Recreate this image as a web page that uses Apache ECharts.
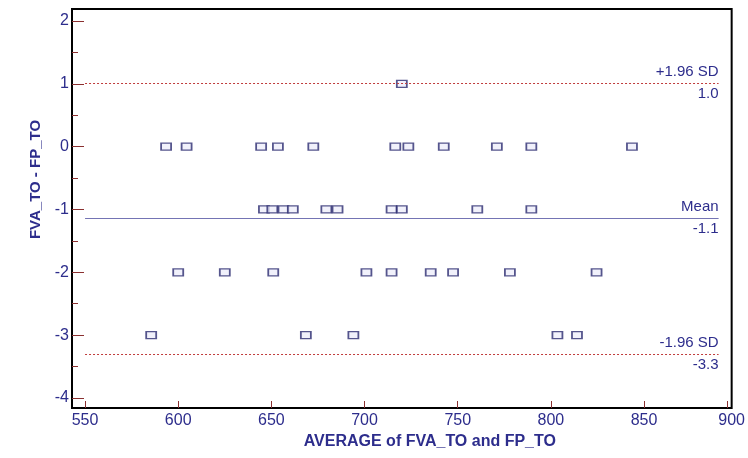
<!DOCTYPE html>
<html>
<head>
<meta charset="utf-8">
<script src="https://cdn.jsdelivr.net/npm/echarts@6/dist/echarts.min.js"></script>
<style>
  html, body { margin: 0; padding: 0; background: #fff; }
  #chart { width: 748px; height: 458px; }
</style>
</head>
<body>
<div id="chart"></div>
<script>
// Bland-Altman: average vs difference
const averages = [
  593.5, 604.5, 644.5, 653.5, 672.5, 716.5, 723.5, 742.5, 771, 789.5, 843.5,
  646, 650.5, 656.5, 661.5, 679.5, 685.5, 714.5, 720, 760.5, 789.5,
  600, 625, 651, 701, 714.5, 735.5, 747.5, 778, 824.5,
  585.5, 668.5, 694, 803.5, 814,
  720
];
const differences = [
  0, 0, 0, 0, 0, 0, 0, 0, 0, 0, 0,
  -1, -1, -1, -1, -1, -1, -1, -1, -1, -1,
  -2, -2, -2, -2, -2, -2, -2, -2, -2,
  -3, -3, -3, -3, -3,
  1
];

const limitValues = [1.01, -1.14, -3.3];
const limitNames = ['+1.96 SD', 'Mean', '-1.96 SD'];
const limitTexts = ['1.0', '-1.1', '-3.3'];
const limitStart = 550;
const limitEnd = 890;

const xTicks = [550, 600, 650, 700, 750, 800, 850, 894.5];
const xLabels = [550, 600, 650, 700, 750, 800, 850, 897];
const yTicks = [-4, -3, -2, -1, 0, 1, 2];
const yMinorTicks = [-3.5, -2.5, -1.5, -0.5, 0.5, 1.5];

const navy = '#2d2d8c';
const tickRed = '#8a3030';
const fontFamily = 'Liberation Sans, Arial, sans-serif';

const chart = echarts.init(document.getElementById('chart'));

const lineStyles = [
  { color: '#c03c3c', width: 1, type: [2, 2] },
  { color: '#7474b4', width: 1.2, type: 'solid' },
  { color: '#c03c3c', width: 1, type: [2, 2] }
];

const markLines = [];
limitValues.forEach((v, i) => {
  markLines.push([
    {
      coord: [limitStart, v],
      lineStyle: lineStyles[i],
      label: {
        show: true,
        position: 'insideEnd',
        distance: 0,
        lineHeight: 11,
        formatter: limitNames[i] + '\n\n' + limitTexts[i]
      }
    },
    { coord: [limitEnd, v] }
  ]);
});

const option = {
  animation: false,
  grid: {
    left: 72,
    right: 15,
    top: 9,
    bottom: 50,
    show: true,
    borderColor: '#000',
    borderWidth: 2,
    backgroundColor: '#fff'
  },
  xAxis: {
    type: 'value',
    min: 543,
    max: 897,
    name: 'AVERAGE of FVA_TO and FP_TO',
    nameLocation: 'middle',
    nameGap: 23,
    nameTextStyle: {
      color: navy,
      fontSize: 16,
      fontWeight: 'bold',
      fontFamily: fontFamily,
      padding: [0, 0, 0, 56]
    },
    axisLine: { show: false, onZero: false },
    splitLine: { show: false },
    axisTick: {
      show: true,
      inside: true,
      length: 7,
      customValues: xTicks,
      lineStyle: { color: tickRed, width: 1 }
    },
    axisLabel: {
      customValues: xLabels,
      margin: 5,
      color: navy,
      fontSize: 16,
      fontFamily: fontFamily,
      formatter: v => (v > 880 ? '900' : String(v))
    }
  },
  yAxis: [
    {
      type: 'value',
      min: -4.16,
      max: 2.19,
      name: 'FVA_TO - FP_TO',
      nameLocation: 'middle',
      nameGap: 29,
      nameTextStyle: {
        color: navy,
        fontSize: 15,
        fontWeight: 'bold',
        fontFamily: fontFamily,
        padding: [0, 0, 0, 58]
      },
      axisLine: { show: false, onZero: false },
      splitLine: { show: false },
      axisTick: {
        show: true,
        inside: true,
        length: 12,
        customValues: yTicks,
        lineStyle: { color: tickRed, width: 1 }
      },
      axisLabel: {
        customValues: yTicks,
        margin: 3,
        color: navy,
        fontSize: 16,
        fontFamily: fontFamily
      }
    },
    {
      type: 'value',
      min: -4.16,
      max: 2.19,
      position: 'left',
      axisLine: { show: false, onZero: false },
      splitLine: { show: false },
      axisLabel: { show: false },
      axisTick: {
        show: true,
        inside: true,
        length: 6,
        customValues: yMinorTicks,
        lineStyle: { color: tickRed, width: 1 }
      }
    }
  ],
  series: [
    {
      type: 'scatter',
      data: averages.map((a, i) => [a, differences[i]]),
      symbol: 'rect',
      symbolSize: [10, 7],
      itemStyle: {
        color: '#eeeefa',
        borderColor: '#2c2c70',
        borderWidth: 1.5
      },
      silent: true,
      markLine: {
        silent: true,
        symbol: ['none', 'none'],
        label: {
          color: navy,
          fontSize: 15,
          fontFamily: fontFamily,
          align: 'right'
        },
        data: markLines
      }
    }
  ]
};

chart.setOption(option);
</script>
</body>
</html>
